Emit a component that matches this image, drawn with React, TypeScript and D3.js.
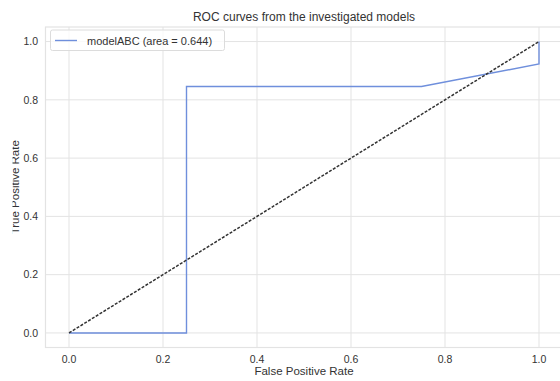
import React from "react";
import * as d3 from "d3";

const rocFpr = [0, 0.25, 0.25, 0.75, 1.0, 1.0];
const rocTpr = [0, 0, 0.846, 0.846, 0.923, 1.0];
const diagFpr = [0, 1];
const diagTpr = [0, 1];
const xTicks = [0, 0.2, 0.4, 0.6, 0.8, 1.0];
const yTicks = [0, 0.2, 0.4, 0.6, 0.8, 1.0];
const legendLabel = "modelABC (area = 0.644)";
const title = "ROC curves from the investigated models";

export default function App() {
  const W = 560, H = 381;
  const left = 45.5, right = 562.5, top = 27, bottom = 347.5;
  const x = d3.scaleLinear().domain([-0.05, 1.05]).range([left, right]);
  const y = d3.scaleLinear().domain([-0.05, 1.05]).range([bottom, top]);
  const line = d3.line<[number, number]>().x(d => x(d[0])).y(d => y(d[1]));
  const roc = line(rocFpr.map((v, i) => [v, rocTpr[i]] as [number, number]))!;
  const diag = line(diagFpr.map((v, i) => [v, diagTpr[i]] as [number, number]))!;
  const font = "'Liberation Sans', Arial, sans-serif";
  const txt = "#333";
  return (
    <svg width={W} height={H} style={{ position: "absolute", left: 0, top: 0, background: "#fff" }} fontFamily={font}>
      <defs>
        <clipPath id="ylab"><rect x={12.5} y={0} width={40} height={H} /></clipPath>
        <clipPath id="plot"><rect x={left} y={top} width={right - left} height={bottom - top} /></clipPath>
      </defs>
      <rect width={W} height={H} fill="#fff" />
      {xTicks.map(t => (
        <line key={"gx" + t} x1={x(t)} x2={x(t)} y1={top} y2={bottom} stroke="#e3e3e3" strokeWidth={1} />
      ))}
      {yTicks.map(t => (
        <line key={"gy" + t} x1={left} x2={right} y1={y(t)} y2={y(t)} stroke="#e3e3e3" strokeWidth={1} />
      ))}
      <rect x={left} y={top} width={right - left} height={bottom - top} fill="none" stroke="#e3e3e3" strokeWidth={1.2} />
      <g clipPath="url(#plot)">
        <path d={roc} fill="none" stroke="#6f8fdc" strokeWidth={1.4} />
        <path d={diag} fill="none" stroke="#333" strokeWidth={1.5} strokeDasharray="3,1.5" />
      </g>
      {xTicks.map(t => (
        <text key={"tx" + t} x={x(t)} y={363} textAnchor="middle" fontSize={10.5} fill={txt}>{t.toFixed(1)}</text>
      ))}
      {yTicks.map(t => (
        <text key={"ty" + t} x={38} y={y(t) + 3.8} textAnchor="end" fontSize={10.5} fill={txt}>{t.toFixed(1)}</text>
      ))}
      <text x={(left + right) / 2} y={375} textAnchor="middle" fontSize={11.5} fill={txt}>False Positive Rate</text>
      <g clipPath="url(#ylab)">
        <text transform={`translate(18.5,${(top + bottom) / 2}) rotate(-90)`} textAnchor="middle" fontSize={11.5} fill={txt}>True Positive Rate</text>
      </g>
      <text x={(left + right) / 2} y={21} textAnchor="middle" fontSize={12} fill={txt}>{title}</text>
      <rect x={50.5} y={30} width={174} height={20.5} rx={2} fill="#fff" fillOpacity={0.8} stroke="#dcdcdc" strokeWidth={1} />
      <line x1={55} x2={77} y1={40.5} y2={40.5} stroke="#6f8fdc" strokeWidth={1.4} />
      <text x={87} y={44.5} fontSize={11} fill={txt}>{legendLabel}</text>
    </svg>
  );
}
